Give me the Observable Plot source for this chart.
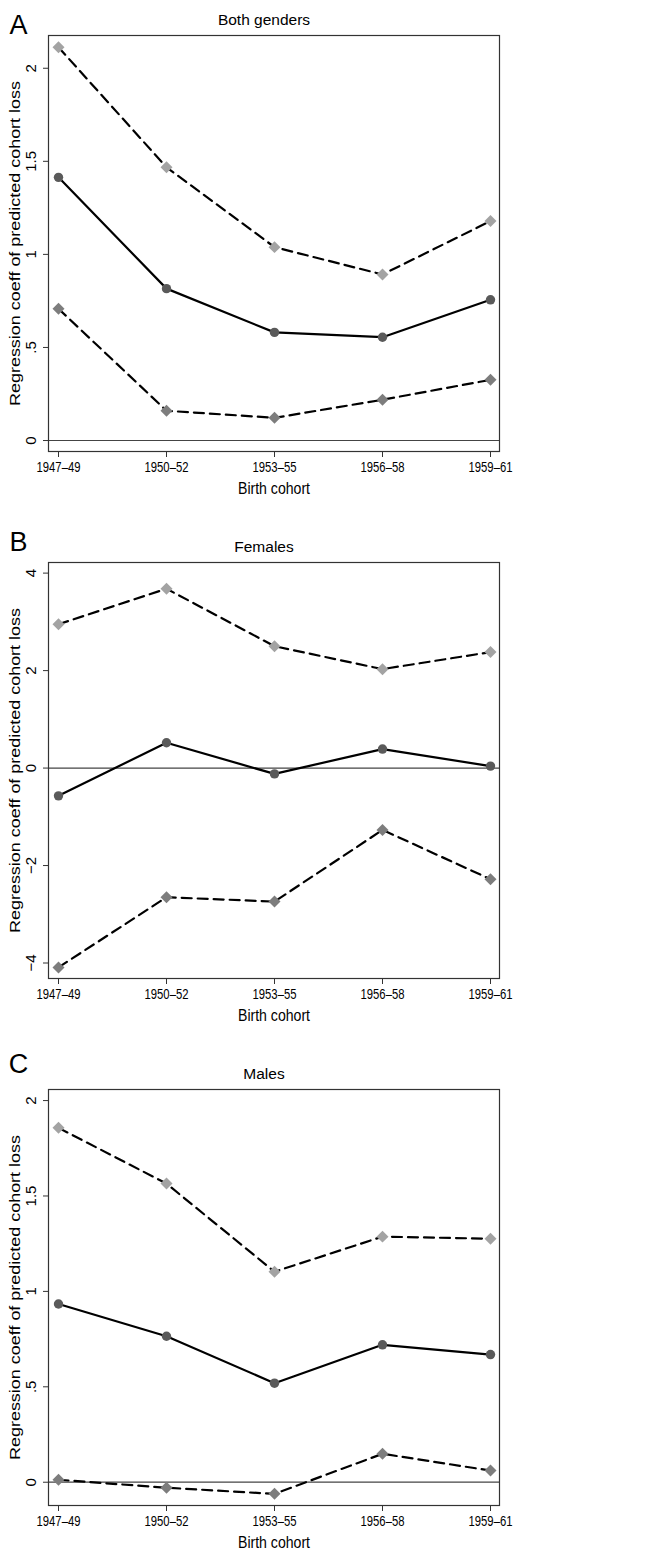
<!DOCTYPE html>
<html><head><meta charset="utf-8">
<script src="https://cdn.jsdelivr.net/npm/d3@7"></script>
<script src="https://cdn.jsdelivr.net/npm/@observablehq/plot@0.6"></script>
<style>
body{margin:0;background:#fff}
svg{display:block}
</style>
</head><body><div id="chart"></div>
<script>
const cohorts = ["1947–49","1950–52","1953–55","1956–58","1959–61"];

// Panel A: Both genders
const bothEst   = [1.414, 0.816, 0.581, 0.555, 0.756];
const bothUpper = [2.113, 1.468, 1.039, 0.892, 1.179];
const bothLower = [0.708, 0.160, 0.122, 0.219, 0.326];

// Panel B: Females
const femEst   = [-0.57, 0.52, -0.12, 0.39, 0.04];
const femUpper = [2.95, 3.68, 2.50, 2.03, 2.38];
const femLower = [-4.09, -2.65, -2.74, -1.27, -2.28];

// Panel C: Males
const maleEst   = [0.934, 0.765, 0.519, 0.720, 0.669];
const maleUpper = [1.857, 1.565, 1.103, 1.287, 1.276];
const maleLower = [0.013, -0.029, -0.061, 0.149, 0.061];

const ticksA = [0, 0.5, 1, 1.5, 2];
const ticksB = [-4, -2, 0, 2, 4];
const ticksC = [0, 0.5, 1, 1.5, 2];

const yTitle = "Regression coeff of predicted cohort loss";
const xTitle = "Birth cohort";

const fmt = d => d === 0 ? "0" : (Math.abs(d) < 1 ? (d < 0 ? "−" : "") + String(Math.abs(d)).replace(/^0/, "") : (d < 0 ? "−" + Math.abs(d) : String(d)));

const FONT = "'Liberation Sans', Arial, Helvetica, sans-serif";

function rows(vals) { return cohorts.map((c, i) => ({cohort: c, v: vals[i]})); }

function panel({letter, letterDy, title, est, upper, lower, domain, ticks, height, marginBottom}) {
  const e = rows(est), u = rows(upper), l = rows(lower);
  return Plot.plot({
    width: 663,
    height,
    marginLeft: 48,
    marginRight: 164,
    marginTop: 35,
    marginBottom,
    style: {fontFamily: FONT, background: "#fff", overflow: "visible"},
    x: {type: "point", domain: cohorts, padding: 0.086, axis: null},
    y: {domain, axis: null},
    marks: [
      Plot.ruleY([0], {stroke: "#444", strokeWidth: 1.2}),
      Plot.line(u, {x: "cohort", y: "v", stroke: "#000", strokeWidth: 2.2, strokeDasharray: "10,6"}),
      Plot.line(l, {x: "cohort", y: "v", stroke: "#000", strokeWidth: 2.2, strokeDasharray: "10,6"}),
      Plot.line(e, {x: "cohort", y: "v", stroke: "#000", strokeWidth: 2.2}),
      Plot.dot(u, {x: "cohort", y: "v", symbol: "diamond2", r: 5.4, fill: "#a3a3a3", stroke: "none"}),
      Plot.dot(l, {x: "cohort", y: "v", symbol: "diamond2", r: 5.4, fill: "#7d7d7d", stroke: "none"}),
      Plot.dot(e, {x: "cohort", y: "v", symbol: "circle", r: 4.7, fill: "#5a5a5a", stroke: "none"}),
      Plot.frame({stroke: "#333", strokeWidth: 1.2}),
      Plot.axisY({ticks, tickSize: 5, tickFormat: () => "", label: null, stroke: "#333"}),
      Plot.text(ticks, {y: d => d, text: d => fmt(d), frameAnchor: "left", dx: -17, rotate: -90, fontSize: 15, fill: "#000", textAnchor: "middle", lineAnchor: "middle"}),
      Plot.axisX({tickSize: 6, tickFormat: () => "", label: null, stroke: "#333"}),
      Plot.text(cohorts, {x: d => d, text: d => d, frameAnchor: "bottom", dy: 16, fontSize: 14, fill: "#000", lineAnchor: "middle", className: "xtick"}),
      Plot.text([xTitle], {frameAnchor: "bottom", dy: 37, fontSize: 16, fill: "#000", lineAnchor: "middle", className: "xtitle"}),
      Plot.text([yTitle], {frameAnchor: "left", dx: -33, rotate: -90, fontSize: 15, fill: "#000", lineAnchor: "middle", textAnchor: "middle", className: "ytitle"}),
      Plot.text([title], {frameAnchor: "top", dx: -10, dy: -15, fontSize: 15.5, fill: "#000", lineAnchor: "middle"}),
      Plot.text([letter], {frameAnchor: "top-left", dx: -30, dy: letterDy, fontSize: 27, fill: "#000", lineAnchor: "middle", textAnchor: "middle"})
    ]
  });
}

const root = document.getElementById("chart");
root.append(panel({letter: "A", letterDy: -10, title: "Both genders", est: bothEst, upper: bothUpper, lower: bothLower, domain: [-0.059, 2.176], ticks: ticksA, height: 527, marginBottom: 76}));
root.append(panel({letter: "B", letterDy: -20, title: "Females", est: femEst, upper: femUpper, lower: femLower, domain: [-4.318, 4.218], ticks: ticksB, height: 527, marginBottom: 76}));
root.append(panel({letter: "C", letterDy: -25, title: "Males", est: maleEst, upper: maleUpper, lower: maleLower, domain: [-0.122, 2.058], ticks: ticksC, height: 497, marginBottom: 46}));

// condensed horizontal text, elongated vertical title (as in the source figure)
d3.selectAll("g.xtick text").attr("textLength", 44).attr("lengthAdjust", "spacingAndGlyphs");
d3.selectAll("g.xtitle text").attr("textLength", 72).attr("lengthAdjust", "spacingAndGlyphs");
d3.selectAll("g.ytitle text").attr("textLength", 325).attr("lengthAdjust", "spacingAndGlyphs");
</script>
</body></html>
